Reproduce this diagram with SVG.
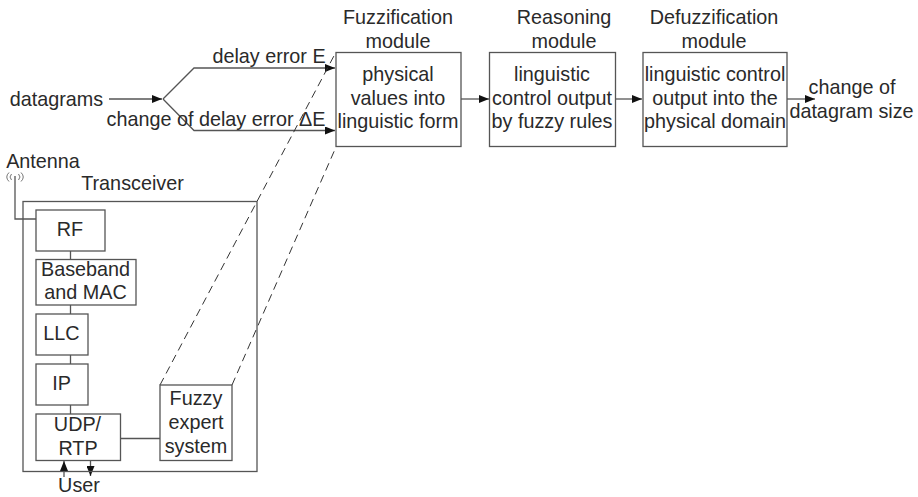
<svg xmlns="http://www.w3.org/2000/svg" width="918" height="497" viewBox="0 0 918 497">
<style>
text{font-family:"Liberation Sans",Arial,sans-serif;font-size:19.8px;fill:#2a2a2a;text-anchor:middle}
.b{fill:none;stroke:#555;stroke-width:1.3}
.c{fill:none;stroke:#555;stroke-width:1.3}
.d{fill:none;stroke:#333;stroke-width:1;stroke-dasharray:8 5}
.a{marker-end:url(#arr)}
</style>
<defs>
<marker id="arr" viewBox="0 0 10 8" refX="10" refY="4" markerWidth="10" markerHeight="8" markerUnits="userSpaceOnUse" orient="auto"><path d="M0 0L10 4L0 8Z" fill="#111"/></marker>
</defs>
<rect width="918" height="497" fill="#fff"/>
<g id="connectors">
<path class="c a" d="M109 99H162"/>
<path class="c a" d="M163 99L194 68H335"/>
<path class="c a" d="M163 99L194 130.500H335"/>
<path class="c a" d="M461 99H489"/>
<path class="c a" d="M615 99H642"/>
<path class="c a" d="M787 99H815"/>
<path class="c" d="M15 176V219H36"/>
<path class="c" d="M70.500 251V260M70.500 305V314M70.500 355V364M70.500 405V414M120 438.500H160"/>
<path class="c a" d="M64 477V461"/>
<path class="c a" d="M90.500 460V476"/>
<path class="d" d="M160 385L336 52"/>
<path class="d" d="M232 385L336 147"/>
</g>
<g id="antenna">
<text x="43" y="168">Antenna</text>
<path d="M9 172.500Q4.500 177 9 181.500M11.500 174Q8.500 177 11.500 180M18.500 174Q21.500 177 18.500 180M21 172.500Q25.500 177 21 181.500" fill="none" stroke="#666" stroke-width="0.9"/>
</g>
<g id="transceiver"><rect class="b" x="23" y="201.500" width="234" height="270"/><text x="132.500" y="190">Transceiver</text></g>
<g id="rf"><rect class="b" x="36" y="210" width="69" height="41" fill="#fff"/><text x="70" y="236">RF</text></g>
<g id="baseband"><rect class="b" x="36" y="259.500" width="100" height="45.500"/><text x="85.500" y="276">Baseband</text><text x="85.500" y="299">and MAC</text></g>
<g id="llc"><rect class="b" x="36" y="314" width="52" height="41"/><text x="61.500" y="340">LLC</text></g>
<g id="ip"><rect class="b" x="36" y="364" width="52" height="41"/><text x="61.500" y="390">IP</text></g>
<g id="udp"><rect class="b" x="36" y="414" width="84.500" height="46.500"/><text x="77.500" y="431">UDP/</text><text x="78" y="455">RTP</text></g>
<g id="fuzzy"><rect class="b" x="160" y="385" width="72" height="75.500"/><text x="196" y="405">Fuzzy</text><text x="196" y="429">expert</text><text x="196" y="453">system</text></g>
<g id="user"><text x="79" y="492">User</text></g>
<g id="labels">
<text x="56.500" y="106">datagrams</text>
<text x="269" y="63">delay error E</text>
<text x="216" y="126">change of delay error ΔE</text>
<text x="852" y="94">change of</text>
<text x="851.500" y="118">datagram size</text>
</g>
<g id="fuzzification"><rect class="b" x="336" y="52.500" width="125" height="94"/><text x="398" y="24">Fuzzification</text><text x="398" y="48">module</text><text x="398" y="81">physical</text><text x="398" y="105">values into</text><text x="398" y="128">linguistic form</text></g>
<g id="reasoning"><rect class="b" x="489.500" y="52.500" width="126" height="94"/><text x="564" y="24">Reasoning</text><text x="564" y="48">module</text><text x="552" y="81">linguistic</text><text x="552" y="105">control output</text><text x="552" y="128">by fuzzy rules</text></g>
<g id="defuzzification"><rect class="b" x="643" y="52.500" width="144" height="94"/><text x="714" y="24">Defuzzification</text><text x="714" y="48">module</text><text x="715" y="81">linguistic control</text><text x="715" y="105">output into the</text><text x="715" y="128">physical domain</text></g>
</svg>
